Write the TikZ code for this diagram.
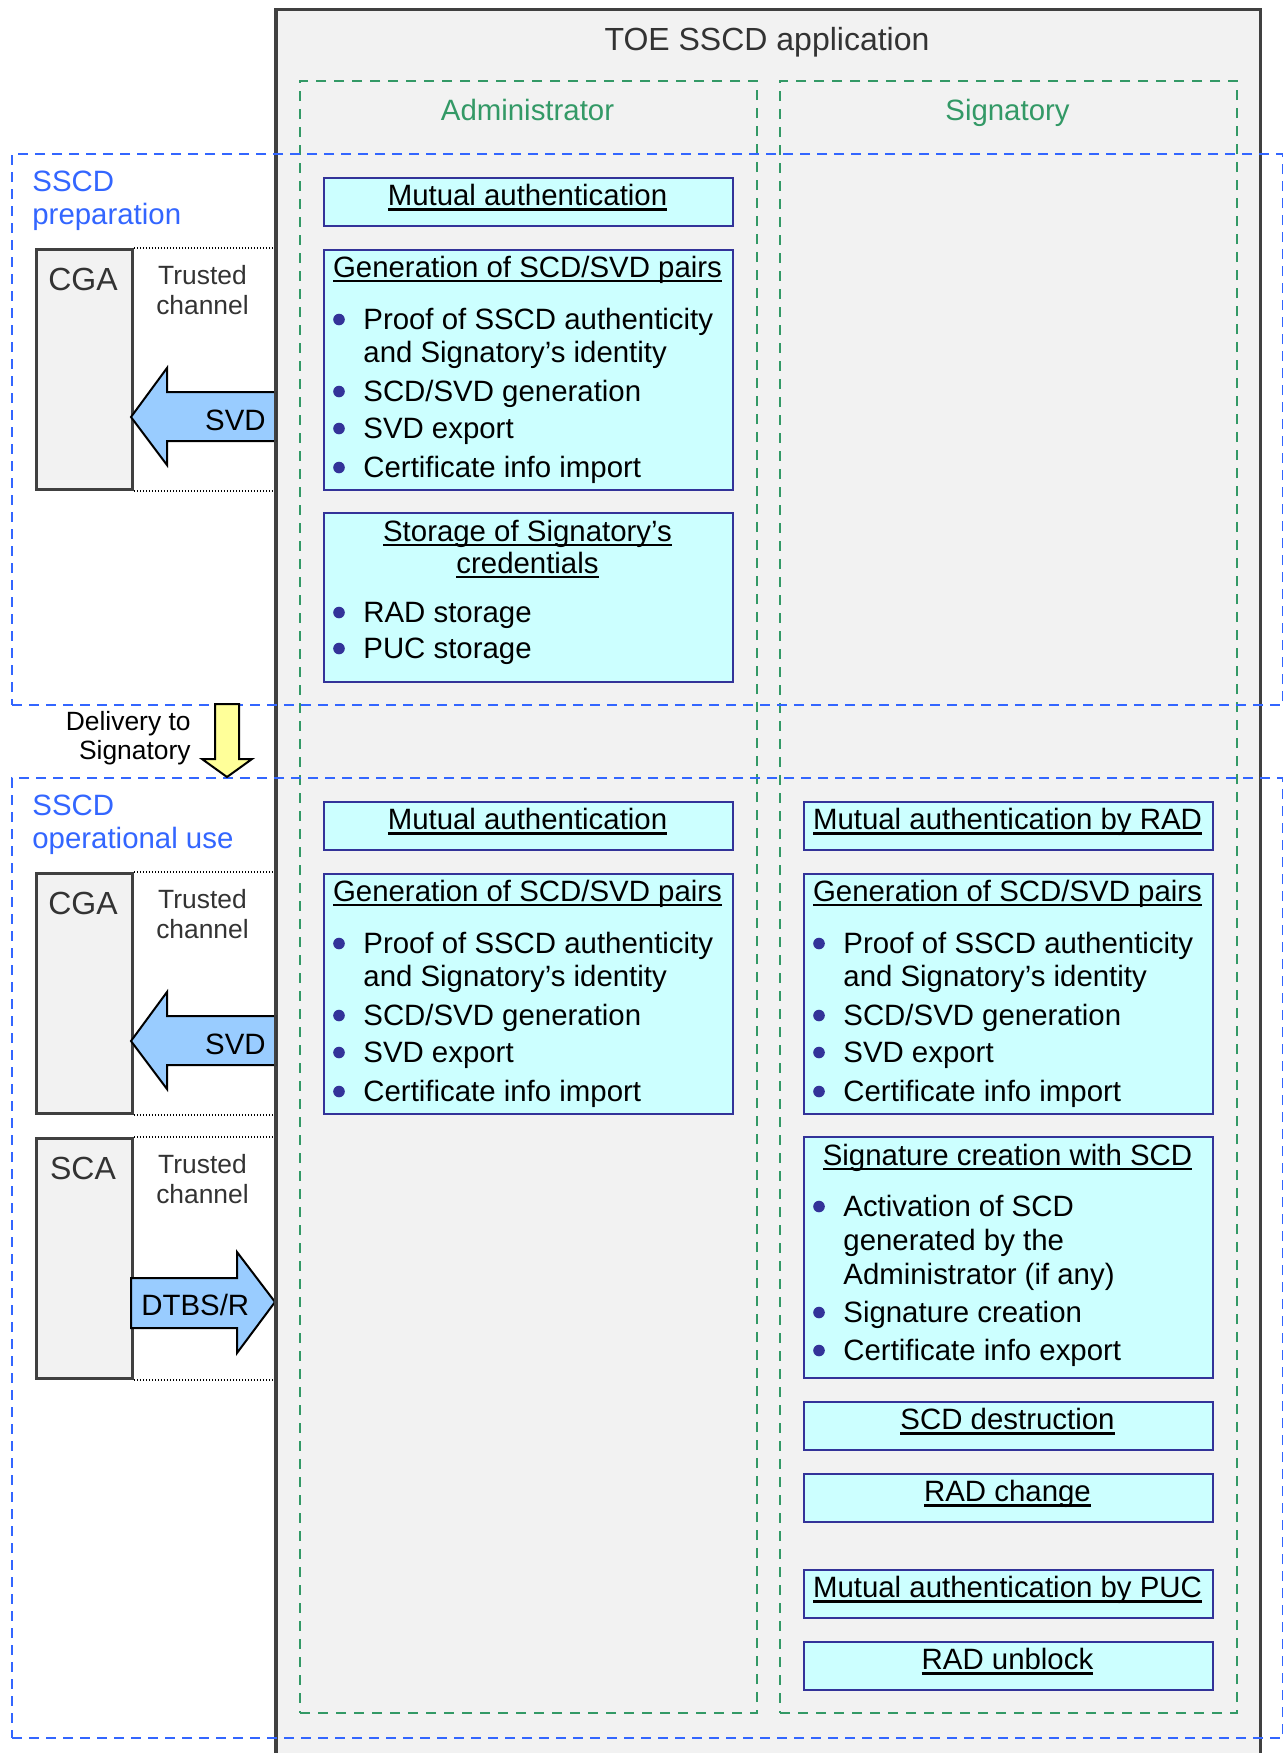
\documentclass[tikz,border=0pt]{standalone}
\usepackage{fontspec}
\setmainfont{Liberation Sans}
\definecolor{bluedash}{HTML}{3366FF}
\definecolor{greendash}{HTML}{339966}
\definecolor{cyanfill}{HTML}{CCFFFF}
\definecolor{navyedge}{HTML}{333399}
\definecolor{toegray}{HTML}{F2F2F2}
\definecolor{edgegray}{HTML}{404040}
\definecolor{textgray}{HTML}{333333}
\definecolor{arrowblue}{HTML}{99CCFF}
\definecolor{arrowyellow}{HTML}{FFFF99}
\newcommand\myul[1]{\leavevmode\setbox0\hbox{#1}\rlap{\vrule width\wd0 height -1.4pt depth 2.6pt}\box0}
\tikzset{
  body/.style={inner sep=0pt, font=\fontsize{14.7pt}{17pt}\selectfont},
  smalltxt/.style={inner sep=0pt, font=\fontsize{13.2pt}{15pt}\selectfont, text=textgray},
  blacksmall/.style={inner sep=0pt, font=\fontsize{13.2pt}{15pt}\selectfont},
  titletxt/.style={inner sep=0pt, font=\fontsize{16pt}{19pt}\selectfont, text=textgray},
  agentxt/.style={inner sep=0pt, font=\fontsize{16pt}{19pt}\selectfont, text=textgray},
  greenlbl/.style={inner sep=0pt, font=\fontsize{14.7pt}{17pt}\selectfont, text=greendash},
  bluelbl/.style={inner sep=0pt, font=\fontsize{14.7pt}{17pt}\selectfont, text=bluedash},
  toebox/.style={draw=edgegray, fill=toegray, line width=1.4pt, inner sep=0pt, anchor=north west},
  colbox/.style={draw=greendash, line width=1.2pt, dash pattern=on 5pt off 4pt, inner sep=0pt, anchor=north west},
  phasebox/.style={draw=bluedash, line width=1.2pt, dash pattern=on 5pt off 3.5pt, inner sep=0pt, anchor=north west},
  cbox/.style={draw=navyedge, fill=cyanfill, line width=1.1pt, inner sep=0pt, anchor=north west, minimum width=204.5pt},
  agentbox/.style={draw=edgegray, fill=toegray, line width=1.4pt, inner sep=0pt, anchor=north west, minimum width=48pt, minimum height=120pt},
  dotline/.style={line width=0.75pt, dash pattern=on 0.75pt off 0.75pt},
  barrow/.style={draw=black, fill=arrowblue, line width=1pt, line join=miter},
  yarrow/.style={draw=black, fill=arrowyellow, line width=1pt, line join=miter},
}
\newcommand\bitem[4]{%
  \fill[navyedge] ({#2+16},{#3-9.5}) circle[radius=2.9pt];
  \node[body, anchor=base west] (#1) at ({#2+40},#3) {#4};}
\newcommand\genbox[3]{% prefix, left x, top y
  \node[cbox, minimum height=120pt] (#1box) at (#2,#3) {};
  \node[body, anchor=base] (#1title) at ({#2+204.5},{#3+28}) {\myul{Generation of SCD/SVD pairs}};
  \bitem{#1a}{#2}{#3+80}{Proof of SSCD authenticity}
  \node[body, anchor=base west] (#1b) at ({#2+40},{#3+113}) {and Signatory’s identity};
  \bitem{#1c}{#2}{#3+152}{SCD/SVD generation}
  \bitem{#1d}{#2}{#3+189}{SVD export}
  \bitem{#1e}{#2}{#3+228}{Certificate info import}}
\newcommand\onebox[4]{% name, left x, top y, text
  \node[cbox, minimum height=24pt] (#1) at (#2,#3) {};
  \node[body, anchor=base] (#1txt) at ({#2+204.5},{#3+28.5}) {\myul{#4}};}
\newcommand\agent[3]{% name, top y, label
  \node[agentbox] (#1) at (35,#2) {};
  \node[agentxt, anchor=base] (#1lbl) at (83,{#2+42}) {#3};
  \node[smalltxt, anchor=base] (#1tr) at (202.5,{#2+36}) {Trusted};
  \node[smalltxt, anchor=base] (#1ch) at (202.5,{#2+66}) {channel};
  \draw[dotline] (#1.north east) -- (#1.north east -| toe.west);
  \draw[dotline] (#1.south east) -- (#1.south east -| toe.west);}
\begin{document}
\begin{tikzpicture}[x=0.5pt,y=-0.5pt]
\useasboundingbox (0,0) rectangle (1283,1753);
\clip (0,0) rectangle (1283,1753);
\fill[white] (0,0) rectangle (1283,1753);

% TOE box
\node[toebox, minimum width=492pt, minimum height=900pt] (toe) at (275,8) {};
\node[titletxt, anchor=base] (toetitle) at (767,50) {TOE SSCD application};

% role columns
\node[colbox, minimum width=228.5pt, minimum height=816pt] (admcol) at (299,80) {};
\node[colbox, minimum width=228.5pt, minimum height=816pt] (sigcol) at (779,80) {};
\node[greenlbl, anchor=base] (admlbl) at (527.5,120) {Administrator};
\node[greenlbl, anchor=base] (siglbl) at (1007.5,120) {Signatory};

% Administrator, preparation
\onebox{ma1}{323}{177}{Mutual authentication}
\genbox{ga}{323}{249}
\node[cbox, minimum height=84.5pt] (st1) at (323,512) {};
\node[body, anchor=base] (st1t1) at (527.5,541) {\myul{Storage of Signatory’s}};
\node[body, anchor=base] (st1t2) at (527.5,573) {\myul{credentials}};
\bitem{st1a}{323}{622}{RAD storage}
\bitem{st1b}{323}{658}{PUC storage}

% Administrator, operational use
\onebox{ma2}{323}{801}{Mutual authentication}
\genbox{gb}{323}{873}

% Signatory, operational use
\onebox{mar}{803}{801}{Mutual authentication by RAD}
\genbox{gc}{803}{873}
\node[cbox, minimum height=120.5pt] (sig) at (803,1136) {};
\node[body, anchor=base] (sigtitle) at (1007.5,1165) {\myul{Signature creation with SCD}};
\bitem{siga}{803}{1216}{Activation of SCD}
\node[body, anchor=base west] (sigb) at (843,1250) {generated by the};
\node[body, anchor=base west] (sigc) at (843,1284) {Administrator (if any)};
\bitem{sigd}{803}{1322}{Signature creation}
\bitem{sige}{803}{1360}{Certificate info export}
\onebox{des}{803}{1401}{SCD destruction}
\onebox{rch}{803}{1473}{RAD change}
\onebox{map}{803}{1569}{Mutual authentication by PUC}
\onebox{rub}{803}{1641}{RAD unblock}

% external agents
\agent{cgaone}{248}{CGA}
\agent{cgatwo}{872}{CGA}
\agent{sca}{1137}{SCA}

% data arrows
\filldraw[barrow] (275,392) -- (167,392) -- (167,368) -- (131,417) -- (167,465) -- (167,441) -- (275,441) -- cycle;
\node[body, anchor=base east] (svd1) at (266,430) {SVD};
\filldraw[barrow] (275,1016) -- (167,1016) -- (167,992) -- (131,1041) -- (167,1089) -- (167,1065) -- (275,1065) -- cycle;
\node[body, anchor=base east] (svd2) at (266,1054) {SVD};
\filldraw[barrow] (131,1278) -- (237,1278) -- (237,1252) -- (275,1302) -- (237,1353) -- (237,1328) -- (131,1328) -- cycle;
\node[body, anchor=base west] (dtbs) at (141,1315) {DTBS/R};
\draw[draw=edgegray, line width=1.4pt] (toe.north west) -- (toe.south west);

% phases
\node[phasebox, minimum width=635.5pt, minimum height=275.5pt] (prep) at (11,153) {};
\node[phasebox, minimum width=635.5pt, minimum height=480pt] (oper) at (11,777) {};
\node[bluelbl, anchor=base west] (prepl1) at (32,191) {SSCD};
\node[bluelbl, anchor=base west] (prepl2) at (32,224) {preparation};
\node[bluelbl, anchor=base west] (operl1) at (32,815) {SSCD};
\node[bluelbl, anchor=base west] (operl2) at (32,848) {operational use};

% delivery
\filldraw[yarrow] (215,704) -- (239,704) -- (239,759) -- (252,759) -- (227,777) -- (202,759) -- (215,759) -- cycle;
\node[blacksmall, anchor=base east] (del1) at (191,730) {Delivery to};
\node[blacksmall, anchor=base east] (del2) at (191,759) {Signatory};
\end{tikzpicture}
\end{document}
